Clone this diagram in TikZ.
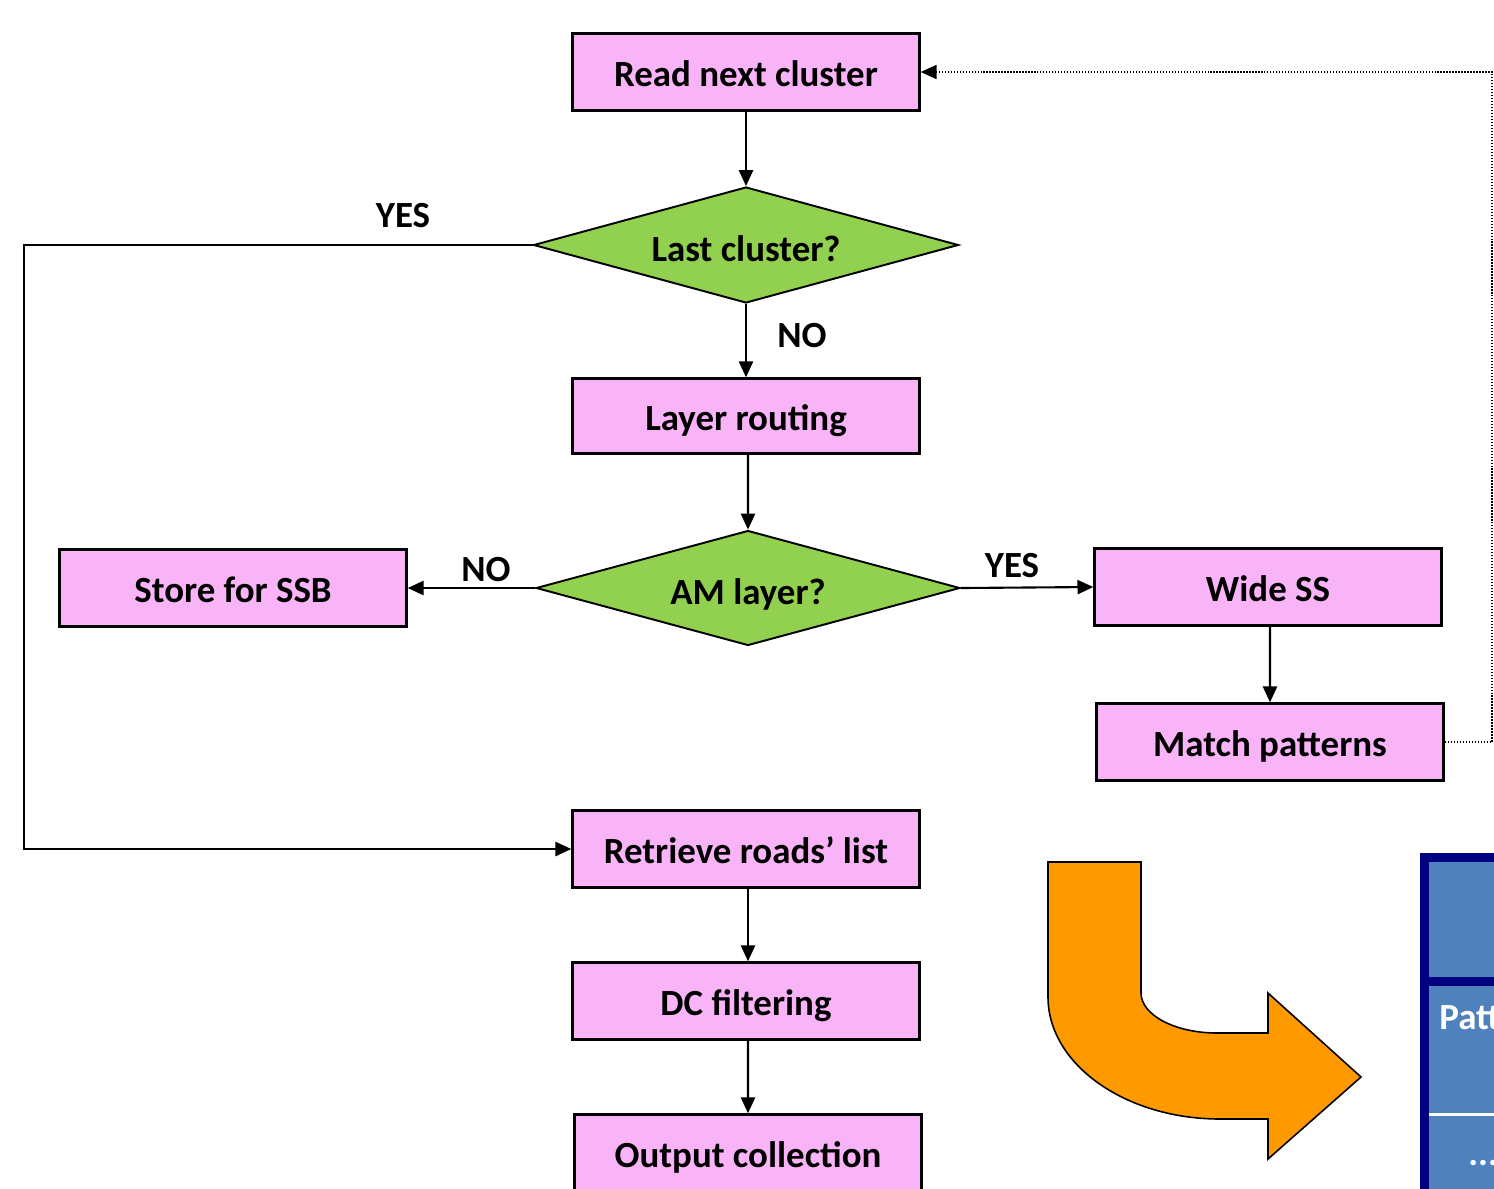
\documentclass[tikz,border=0pt]{standalone}
\usepackage{fontspec}
\setmainfont{Carlito}
\usetikzlibrary{shapes.geometric,arrows.meta}
\definecolor{boxpink}{HTML}{F9B3F7}
\definecolor{diagreen}{HTML}{92D050}
\definecolor{arrorange}{HTML}{FF9900}
\definecolor{tblblue}{HTML}{4F81BD}
\definecolor{tblnavy}{HTML}{000080}
\tikzset{
  procbox/.style={draw=black, line width=1.4pt, fill=boxpink, rectangle,
    minimum width=6.94cm, minimum height=1.54cm, inner sep=0pt,
    text height=17pt, text depth=0pt,
    font=\fontsize{21}{25}\selectfont\bfseries},
  decbox/.style={draw=black, line width=1.1pt, fill=diagreen, diamond, aspect=3.66,
    inner sep=0pt, text height=19pt, text depth=0pt,
    font=\fontsize{21}{25}\selectfont\bfseries},
  lbl/.style={font=\fontsize{21}{25}\selectfont\bfseries, inner sep=0pt},
  conn/.style={line width=1.2pt, -{Triangle[length=9pt,width=8pt]}},
  feedback/.style={line width=0.7pt, densely dotted, -{Triangle[length=9pt,width=8pt]}},
}
\begin{document}
\begin{tikzpicture}[x=0.02cm, y=-0.02cm]
\clip (0,0) rectangle (1494,1188);
\fill[white] (0,0) rectangle (1494,1188);

% nodes
\node[procbox] (read) at (746,72) {Read next cluster};
\node[decbox, minimum width=8.5cm, minimum height=2.32cm] (last) at (746,245) {Last cluster?};
\node[procbox, minimum height=1.5cm] (layer) at (746,416) {Layer routing};
\node[decbox, minimum width=8.48cm, minimum height=2.3cm] (am) at (748,588) {AM layer?};
\node[procbox] (store) at (233,588) {Store for SSB};
\node[procbox] (wide) at (1268,587) {Wide SS};
\node[procbox] (match) at (1270,742) {Match patterns};
\node[procbox] (retr) at (746,849) {Retrieve roads’ list};
\node[procbox] (dc) at (746,1001) {DC filtering};
\node[procbox] (out) at (748,1153) {Output collection};

% labels
\node[lbl] (yes1) at (403,216) {YES};
\node[lbl] (no1) at (802,336) {NO};
\node[lbl] (no2) at (486,570) {NO};
\node[lbl] (yes2) at (1012,566) {YES};

% helper coordinates
\coordinate (c1) at (24,245);
\coordinate (c2) at (24,849);
\coordinate (d1) at (1492,742);
\coordinate (d2) at (1492,72);

% connectors
\draw[conn] (read.south) -- (last.north);
\draw[conn] (last.south) -- (layer.north);
\draw[conn] ([xshift=0.04cm]layer.south) -- (am.north);
\draw[conn] (am.west) -- (store.east);
\draw[conn] (am.east) -- (wide.west);
\draw[conn] ([xshift=0.04cm]wide.south) -- (match.north);
\draw[conn] (last.west) -- (c1) -- (c2) -- (retr.west);
\draw[conn] ([xshift=0.04cm]retr.south) -- ([xshift=0.04cm]dc.north);
\draw[conn] ([xshift=0.04cm]dc.south) -- (out.north);
\draw[feedback] (match.east) -- (d1) -- (d2) -- (read.east);

% orange bent arrow
\draw[fill=arrorange, draw=black, line width=0.9pt, line join=miter]
  (1048,862) -- (1141,862) -- (1141,993)
  .. controls (1141,1015) and (1175,1033) .. (1217,1033)
  -- (1268,1033) -- (1268,993) -- (1361,1077) -- (1268,1159) -- (1268,1119)
  -- (1220,1119)
  .. controls (1125,1119) and (1048,1064) .. (1048,997) -- cycle;

% blue table (cut at the edge)
\fill[tblnavy] (1420,853) rectangle (1520,1210);
\fill[tblblue] (1429,862) rectangle (1520,977);
\fill[tblblue] (1429,986) rectangle (1520,1113);
\fill[white] (1429,1113) rectangle (1520,1116);
\fill[tblblue] (1429,1116) rectangle (1520,1210);
\node[lbl, text=white, anchor=west] (patt) at (1439,1018) {Patt};
\node[lbl, text=white, anchor=west] (dots) at (1468,1163) {...};
\end{tikzpicture}
\end{document}
